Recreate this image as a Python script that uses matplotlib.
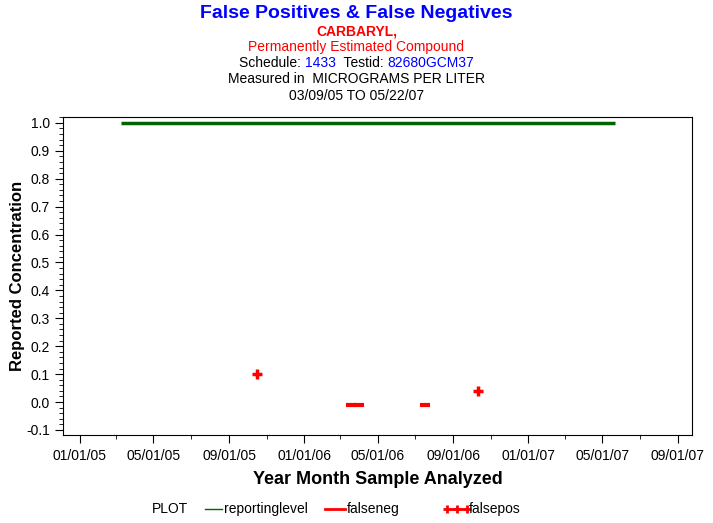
import datetime as dt
import matplotlib
matplotlib.use("Agg")
import matplotlib.pyplot as plt
import matplotlib.dates as mdates
from matplotlib.ticker import MultipleLocator
from matplotlib.lines import Line2D
from matplotlib.offsetbox import TextArea, HPacker, AnnotationBbox

plt.rcParams['font.family'] = ['Liberation Sans', 'DejaVu Sans']

# data
report_dates = ["2005-03-09", "2007-05-22"]
report_level = [1.0, 1.0]
falseneg_dates = ["2006-03-19", "2006-03-31", "2006-07-16"]
falseneg_vals = [-0.01, -0.01, -0.01]
falsepos_dates = ["2005-10-16", "2006-10-11"]
falsepos_vals = [0.1, 0.04]
xtick_labels = ["01/01/05", "05/01/05", "09/01/05", "01/01/06", "05/01/06",
                "09/01/06", "01/01/07", "05/01/07", "09/01/07"]


def todates(lst):
    return [dt.datetime.strptime(s, "%Y-%m-%d") for s in lst]


W, H = 713, 523
fig = plt.figure(figsize=(W/100, H/100), dpi=100)
ax = fig.add_axes([63/W, 1-435/H, (692-63)/W, (435-117)/H])

ax.plot(todates(report_dates), report_level, color="#006400", lw=2.5, solid_capstyle="butt")
ax.plot(todates(falseneg_dates), falseneg_vals, ls="none", marker="_", color="red",
        markersize=7.5, markeredgewidth=3)
ax.plot(todates(falsepos_dates), falsepos_vals, ls="none", marker="+", color="red",
        markersize=7.5, markeredgewidth=2.5)

ax.set_xlim(dt.datetime(2004, 12, 5), dt.datetime(2007, 9, 24))
ax.set_ylim(-0.118, 1.021)
ticks = [dt.datetime.strptime(s, "%m/%d/%y") for s in xtick_labels]
ax.set_xticks(ticks)
ax.set_xticklabels(xtick_labels)
ax.xaxis.set_minor_locator(mdates.MonthLocator(bymonth=[3, 7, 11]))
ax.yaxis.set_major_locator(MultipleLocator(0.1))
ax.yaxis.set_minor_locator(MultipleLocator(0.02))
ax.yaxis.set_major_formatter(plt.FuncFormatter(lambda v, p: "%.1f" % v))
ax.tick_params(axis="both", which="major", direction="out", length=6, labelsize=10, color="black")
ax.tick_params(axis="both", which="minor", direction="out", length=3)
ax.tick_params(axis="x", which="major", pad=4)

ax.set_ylabel("Reported Concentration", fontsize=12, fontweight="bold")
ax.yaxis.set_label_coords((25 - 63) / (692 - 63), 0.5)
ax.set_xlabel("Year Month Sample Analyzed", fontsize=13, fontweight="bold")
ax.xaxis.set_label_coords(0.5, -(480 - 435) / (435 - 117))
ax.xaxis.label.set_va("center")

# titles
fig.text(0.5, 1-13/H, "False Positives & False Negatives", ha="center", va="center",
         color="#0000ff", fontsize=14, fontweight="bold")
fig.text(0.5, 1-31/H, "CARBARYL,", ha="center", va="center", color="red",
         fontsize=10, fontweight="bold")
fig.text(0.5, 1-47/H, "Permanently Estimated Compound", ha="center", va="center",
         color="red", fontsize=10)
parts = [("Schedule: ", "black"), ("1433", "#0000ff"), ("  Testid: ", "black"),
         ("82680GCM37", "#0000ff")]
box = HPacker(children=[TextArea(t, textprops=dict(color=c, fontsize=10)) for t, c in parts],
              pad=0, sep=0)
fig.add_artist(AnnotationBbox(box, (0.5, 1-63/H), xycoords="figure fraction",
                              frameon=False, box_alignment=(0.5, 0.5)))
fig.text(0.5, 1-79/H, "Measured in  MICROGRAMS PER LITER", ha="center", va="center",
         fontsize=10)
fig.text(0.5, 1-96/H, "03/09/05 TO 05/22/07", ha="center", va="center", fontsize=10)

# legend row
ly = 1 - 509/H
fig.text(152/W, ly, "PLOT", ha="left", va="center", fontsize=10)
fig.add_artist(Line2D([205/W, 222/W], [ly, ly], color="#006400", lw=1))
fig.text(224/W, ly, "reportinglevel", ha="left", va="center", fontsize=10)
fig.add_artist(Line2D([325/W, 345/W], [ly, ly], color="red", lw=2))
fig.text(347/W, ly, "falseneg", ha="left", va="center", fontsize=10)
fig.add_artist(Line2D([447/W, 457/W, 467/W], [ly, ly, ly], color="red", lw=2,
                      marker="+", markersize=6, markeredgewidth=2))
fig.text(469/W, ly, "falsepos", ha="left", va="center", fontsize=10)

fig.savefig("out.png", dpi=100)
